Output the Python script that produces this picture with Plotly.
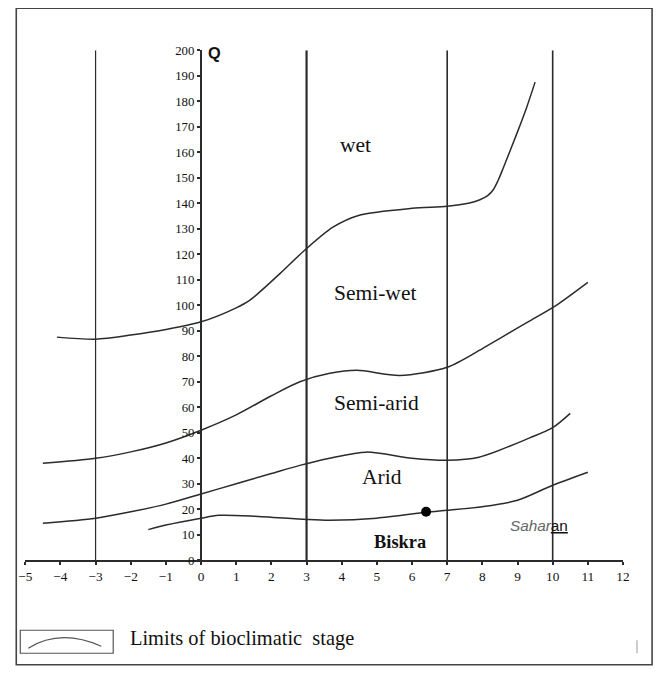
import plotly.graph_objects as go

# thermal axis (m, deg C) and Emberger quotient Q
x_ticks = list(range(-5, 13))
y_ticks = list(range(0, 201, 10))

# vertical limits between thermal variants
stage_limits = [-3, 3, 7, 10]
stage_widths = [1.2, 2.2, 1.6, 1.6]

# thermal variant names under the axis
variant_names = ["Very cold", "Cold", "Fresh", "Temperate", "Warm", "Very wam"]
variant_x = [-3.95, -1.36, 1.45, 5.0, 8.27, 11.4]

# limits of bioclimatic stages
wet_x = [-4.1, -3, -2, -1, 0, 1, 1.39, 2.25, 2.9, 3.75, 4.5, 6, 7, 7.6, 7.93, 8.15, 8.31, 8.45, 8.6, 8.98, 9.26, 9.5]
wet_y = [87.5, 86.7, 88.3, 90.5, 93.5, 99, 102, 112.5, 121, 130.6, 135.3, 138, 138.8, 140, 141.4, 143, 145.3, 149, 154, 167.3, 177.6, 187.5]

semiwet_x = [-4.5, -3, -2, -1, 0, 1, 2, 2.81, 3.66, 4.43, 5.65, 7, 8, 8.5, 9.3, 10.1, 11]
semiwet_y = [38, 40, 42.5, 46, 51, 57, 64.5, 70, 73.3, 74.5, 72.5, 75.7, 83, 87, 93.5, 100, 109]

semiarid_x = [-4.5, -3, -2, -1, 0, 1, 2, 2.81, 3.66, 4.7, 6, 7, 7.9, 9.35, 10, 10.5]
semiarid_y = [14.5, 16.5, 19, 22, 26, 30, 34, 37.2, 40, 42.4, 40, 39.2, 40.4, 48, 52, 57.6]

arid_x = [-1.5, -1, 0, 0.5, 1.5, 3, 3.66, 5, 6.4, 7, 8, 9, 10, 11]
arid_y = [12, 13.8, 16.5, 17.6, 17.3, 16, 15.7, 16.5, 18.8, 19.6, 21, 23.5, 29.4, 34.5]

# station
station_x = [6.4]
station_y = [19]

# stage names
zone_names = ["wet", "Semi-wet", "Semi-arid", "Arid"]
zone_x = [4.4, 4.95, 5.0, 5.15]
zone_y = [163, 105, 61.5, 32.5]

SERIF = "Liberation Serif"
INK = "#2b2b2b"

# the photo of the page comes back slightly shrunk and padded, and the body has an 8px margin
S, A = 0.979, 6.9
OFF, W, H = 8, 653, 665


def page(r):
    return (r - A) / S


def px(r):
    return (page(r) - OFF) / W


def py(r):
    return 1 - (page(r) - OFF) / H


def fs(size):
    return round(size / S, 1)


fig = go.Figure()

for cx, cy in [(wet_x, wet_y), (semiwet_x, semiwet_y), (semiarid_x, semiarid_y), (arid_x, arid_y)]:
    fig.add_trace(go.Scatter(x=cx, y=cy, mode="lines", line=dict(color=INK, width=1.5, shape="spline", smoothing=0.8),
                             hoverinfo="skip"))

fig.add_trace(go.Scatter(x=station_x, y=station_y, mode="markers",
                         marker=dict(color="black", size=10), cliponaxis=False))

# vertical stage limits
for lx, lw in zip(stage_limits, stage_widths):
    fig.add_shape(type="line", x0=lx, x1=lx, y0=0, y1=y_ticks[-1], xref="x", yref="y",
                  line=dict(color=INK, width=lw))

for name, zx, zy in zip(zone_names, zone_x, zone_y):
    fig.add_annotation(x=zx, y=zy, text=name, showarrow=False,
                       font=dict(family=SERIF, size=fs(21), color="#111"))

fig.add_annotation(x=5.65, y=7, text="<b>Biskra</b>", showarrow=False,
                   font=dict(family=SERIF, size=fs(18), color="#111"))
fig.add_annotation(x=9.6, y=13.7, text="<i><span style='color:#666'>Sahar</span></i><u>an</u>",
                   showarrow=False, font=dict(family="Liberation Sans", size=fs(15), color="#111"))
fig.add_annotation(x=0.15, y=199, text="<b>Q</b>", showarrow=False, xanchor="left",
                   font=dict(family="Liberation Sans", size=fs(16), color="#111"))

for name, vx in zip(variant_names, variant_x):
    fig.add_annotation(x=vx, y=-14.5, text=name, showarrow=False,
                       font=dict(family=SERIF, size=fs(14), color="#111"))

# outer frame
fig.add_shape(type="rect", xref="paper", yref="paper", x0=max(px(13), 0.002), x1=min(px(655), 0.997),
              y0=max(py(669), 0.002), y1=py(8), line=dict(color="#444", width=1.6))

# legend sample box
fig.add_shape(type="rect", xref="paper", yref="paper", x0=px(20), x1=px(113),
              y0=py(653), y1=py(630), line=dict(color="#555", width=1.2))
fig.add_shape(type="path", xref="paper", yref="paper",
              path="M %f,%f Q %f,%f %f,%f" % (px(28), py(648), px(60), py(628), px(101), py(646)),
              line=dict(color="#555", width=1.2))
fig.add_annotation(x=px(128), y=py(638), xref="paper", yref="paper", xanchor="left", yanchor="middle",
                   text="Limits of bioclimatic  stage", showarrow=False,
                   font=dict(family=SERIF, size=fs(20), color="#111"))
fig.add_shape(type="line", xref="paper", yref="paper", x0=px(637), x1=px(637),
              y0=py(653), y1=py(640), line=dict(color="#999", width=1))

fig.update_layout(
    width=W, height=H,
    margin=dict(l=0, r=0, t=0, b=0),
    paper_bgcolor="white", plot_bgcolor="white",
    showlegend=False,
    xaxis=dict(range=[-5, 12], domain=[px(25), px(623)], anchor="y",
               tickvals=x_ticks, ticks="outside", ticklen=3, tickwidth=2, tickcolor=INK,
               showline=True, linewidth=2, linecolor=INK, showgrid=False, zeroline=False,
               tickfont=dict(family=SERIF, size=fs(13), color="#111")),
    yaxis=dict(range=[0, 200], domain=[py(560), py(50)], anchor="free",
               position=px(200.9), tickvals=y_ticks, ticks="outside", ticklen=3, tickwidth=2,
               tickcolor=INK, showline=True, linewidth=2.2, linecolor=INK, showgrid=False,
               zeroline=False, tickfont=dict(family=SERIF, size=fs(12.5), color="#111")),
)

fig.write_html("out.html")
